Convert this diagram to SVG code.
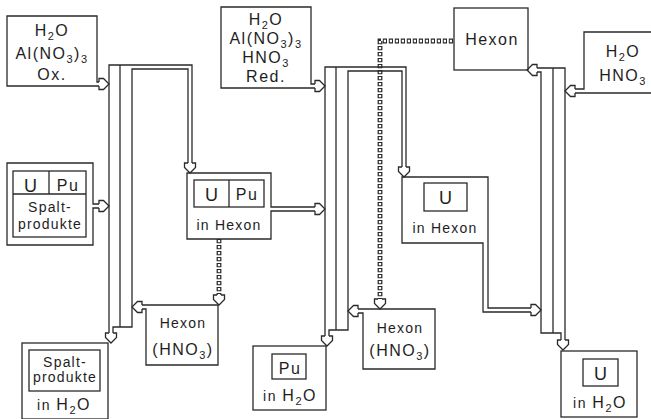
<svg xmlns="http://www.w3.org/2000/svg" xmlns:xlink="http://www.w3.org/1999/xlink" width="651" height="419" viewBox="0 0 651 419">
<style>
.ln{fill:none;stroke:#2a2a2a;stroke-width:1.3;stroke-linejoin:miter}
.ah{fill:#fff;stroke:#2a2a2a;stroke-width:1.3;stroke-linejoin:miter}
.dk{fill:none;stroke:#2a2a2a;stroke-width:4.8;stroke-dasharray:4.2 1.8}
.dw{fill:none;stroke:#fff;stroke-width:2.3;stroke-dasharray:2.2 3.8;stroke-dashoffset:-1}
.t{font-family:"Liberation Sans",Arial,sans-serif;fill:#1e1e1e;text-anchor:middle}
.f{font-size:16px;letter-spacing:1.5px}
.w{font-size:14px;letter-spacing:1.2px}
.b{font-size:18px;letter-spacing:1px}
</style>
<defs>
<path id="ah" class="ah" d="M-10,-2 L-10,-5.5 L-5.5,-5.5 L0,0 L-5.5,5.5 L-10,5.5 L-10,2"/>
</defs>
<rect width="651" height="419" fill="#fff"/>

<g id="connectors">
  <!-- dotted pipes -->
  <path class="dk" d="M219,239 L219,296"/>
  <path class="dw" d="M219,239 L219,296"/>
  <path class="dk" d="M453,41 L380,41 L380,300"/>
  <path class="dw" d="M453,41 L380,41 L380,300"/>
  <!-- column 1 -->
  <path class="ln" d="M109,333 L109,65 L192,65 L192,163"/>
  <path class="ln" d="M113,333 L113,327 L132,327 L132,69 L188,69 L188,163"/>
  <path class="ln" d="M120,65 L120,327"/>
  <!-- column 2 -->
  <path class="ln" d="M325,336 L325,67 L406,67 L406,167"/>
  <path class="ln" d="M329,336 L329,330 L348,330 L348,71 L402,71 L402,167"/>
  <path class="ln" d="M336,67 L336,330"/>
  <!-- column 3 -->
  <path class="ln" d="M537,68 L565,68 L565,340"/>
  <path class="ln" d="M537,72 L541,72 L541,333 L561,333 L561,340"/>
  <path class="ln" d="M553,68 L553,333"/>
  <!-- arrowheads -->
  <use xlink:href="#ah" transform="translate(109,84)"/>
  <use xlink:href="#ah" transform="translate(109,206)"/>
  <use xlink:href="#ah" transform="translate(190,173) rotate(90)"/>
  <use xlink:href="#ah" transform="translate(111,343) rotate(90)"/>
  <use xlink:href="#ah" transform="translate(132,307) rotate(180)"/>
  <use xlink:href="#ah" transform="translate(219,305) rotate(90)"/>
  <use xlink:href="#ah" transform="translate(325,86)"/>
  <use xlink:href="#ah" transform="translate(325,209)"/>
  <use xlink:href="#ah" transform="translate(404,177) rotate(90)"/>
  <use xlink:href="#ah" transform="translate(327,346) rotate(90)"/>
  <use xlink:href="#ah" transform="translate(348,311) rotate(180)"/>
  <use xlink:href="#ah" transform="translate(380,309) rotate(90)"/>
  <use xlink:href="#ah" transform="translate(527,70) rotate(180)"/>
  <use xlink:href="#ah" transform="translate(565,91) rotate(180)"/>
  <use xlink:href="#ah" transform="translate(541,310)"/>
  <use xlink:href="#ah" transform="translate(563,350) rotate(90)"/>
</g>

<g id="feed-ox">
  <path class="ln" d="M99,82 L97,82 L97,16 L7,16 L7,86 L99,86"/>
  <text class="t f" x="52" y="36">H<tspan dy="4" font-size="11">2</tspan><tspan dy="-4">O</tspan></text>
  <text class="t f" x="52" y="59">Al(NO<tspan dy="4" font-size="11">3</tspan><tspan dy="-4">)</tspan><tspan dy="4" font-size="11">3</tspan></text>
  <text class="t f" x="52" y="80">Ox.</text>
</g>

<g id="feed-fuel">
  <path class="ln" d="M99,204 L93,204 L93,163 L7,163 L7,245 L93,245 L93,208 L99,208"/>
  <rect class="ln" x="13" y="171" width="73" height="66"/>
  <path class="ln" d="M13,194 L86,194 M49,171 L49,194"/>
  <text class="t b" x="31" y="192">U</text>
  <text class="t f" x="68" y="191">Pu</text>
  <text class="t w" x="50" y="212">Spalt-</text>
  <text class="t w" x="50" y="229">produkte</text>
</g>

<g id="waste-1">
  <rect class="ln" x="22" y="343" width="86" height="76"/>
  <rect class="ln" x="29" y="350" width="71" height="41"/>
  <text class="t w" x="65" y="367">Spalt-</text>
  <text class="t w" x="65" y="382">produkte</text>
  <text class="t f" x="64" y="410"><tspan font-size="14">in </tspan>H<tspan dy="4" font-size="11">2</tspan><tspan dy="-4">O</tspan></text>
</g>

<g id="scrub-1">
  <path class="ln" d="M142,305 L218,305 L218,365 L146,365 L146,309 L142,309"/>
  <text class="t w" x="183" y="328">Hexon</text>
  <text class="t f" x="183" y="355">(HNO<tspan dy="4" font-size="11">3</tspan><tspan dy="-4">)</tspan></text>
</g>

<g id="upu-hexon">
  <path class="ln" d="M315,207 L271,207 L271,173 L187,173 L187,239 L271,239 L271,211 L315,211"/>
  <rect class="ln" x="194" y="180" width="70" height="27"/>
  <path class="ln" d="M229,180 L229,207"/>
  <text class="t b" x="212" y="201">U</text>
  <text class="t f" x="247" y="200">Pu</text>
  <text class="t w" x="229" y="230">in Hexon</text>
</g>

<g id="feed-red">
  <path class="ln" d="M315,84 L311,84 L311,7 L221,7 L221,88 L315,88"/>
  <text class="t f" x="266" y="25">H<tspan dy="4" font-size="11">2</tspan><tspan dy="-4">O</tspan></text>
  <text class="t f" x="266" y="44">Al(NO<tspan dy="4" font-size="11">3</tspan><tspan dy="-4">)</tspan><tspan dy="4" font-size="11">3</tspan></text>
  <text class="t f" x="266" y="63">HNO<tspan dy="4" font-size="11">3</tspan></text>
  <text class="t f" x="266" y="82">Red.</text>
</g>

<g id="pu-water">
  <rect class="ln" x="253" y="346" width="73" height="64"/>
  <rect class="ln" x="272" y="354" width="34" height="25"/>
  <text class="t f" x="290" y="374">Pu</text>
  <text class="t f" x="290" y="401"><tspan font-size="14">in </tspan>H<tspan dy="4" font-size="11">2</tspan><tspan dy="-4">O</tspan></text>
</g>

<g id="scrub-2">
  <path class="ln" d="M358,309 L435,309 L435,369 L363,369 L363,313 L358,313"/>
  <text class="t w" x="400" y="333">Hexon</text>
  <text class="t f" x="400" y="356">(HNO<tspan dy="4" font-size="11">3</tspan><tspan dy="-4">)</tspan></text>
</g>

<g id="u-hexon">
  <path class="ln" d="M531,308 L488,308 L488,177 L402,177 L402,243 L483,243 L483,312 L531,312"/>
  <rect class="ln" x="424" y="183" width="43" height="28"/>
  <text class="t b" x="446" y="204">U</text>
  <text class="t w" x="445" y="233">in Hexon</text>
</g>

<g id="hexon-out">
  <rect class="ln" x="454" y="8" width="74" height="62"/>
  <text class="t f" x="492" y="45">Hexon</text>
</g>

<g id="feed-strip">
  <path class="ln" d="M575,89 L584,89 L584,32 L652,32 M575,93 L652,93"/>
  <text class="t f" x="623" y="57">H<tspan dy="4" font-size="11">2</tspan><tspan dy="-4">O</tspan></text>
  <text class="t f" x="623" y="81">HNO<tspan dy="4" font-size="11">3</tspan></text>
</g>

<g id="u-water">
  <rect class="ln" x="561" y="351" width="76" height="66"/>
  <rect class="ln" x="583" y="359" width="35" height="27"/>
  <text class="t b" x="601" y="380">U</text>
  <text class="t f" x="600" y="408"><tspan font-size="14">in </tspan>H<tspan dy="4" font-size="11">2</tspan><tspan dy="-4">O</tspan></text>
</g>
</svg>
